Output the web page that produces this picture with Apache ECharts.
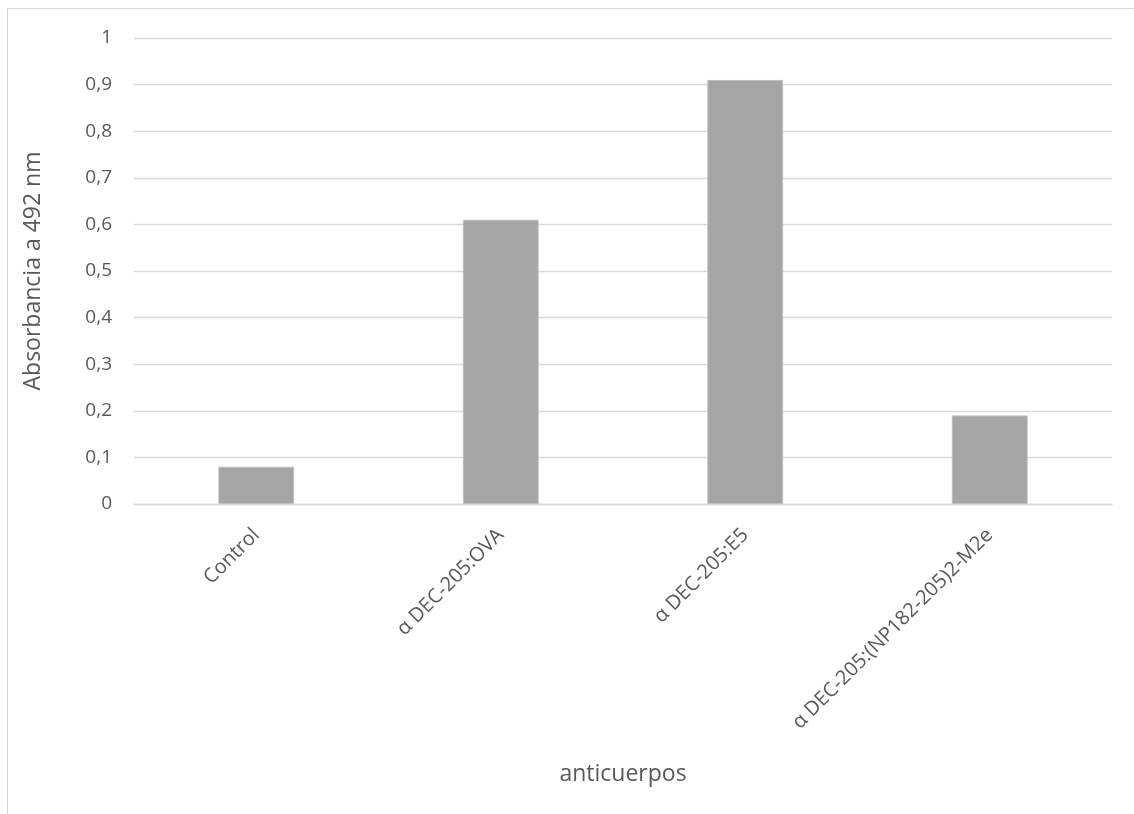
<!DOCTYPE html>
<html>
<head>
<meta charset="utf-8">
<script src="https://cdn.jsdelivr.net/npm/echarts@6/dist/echarts.min.js"></script>
<style>
  html, body { margin: 0; padding: 0; background: #ffffff; overflow: hidden; }
  #frame { position: absolute; left: 7px; top: 8px; width: 1200px; height: 900px;
           border: 1px solid #d9d9d9; box-sizing: border-box; }
  #chart { position: absolute; left: 0; top: 0; width: 1134px; height: 814px; }
</style>
</head>
<body>
<div id="frame"></div>
<div id="chart"></div>
<script>
// Absorbance at 492 nm for each antibody construct
const categories = ['Control', 'α DEC-205:OVA', 'α DEC-205:E5', 'α DEC-205:(NP182-205)2-M2e'];
const absorbance = [0.08, 0.61, 0.91, 0.19];
const yTicks = { min: 0, max: 1, interval: 0.1 };

const FONT = '"Open Sans", "Noto Sans", sans-serif';
const chart = echarts.init(document.getElementById('chart'), null, { renderer: 'canvas' });

chart.setOption({
  backgroundColor: 'transparent',
  animation: false,
  grid: { left: 134, right: 22, top: 38, bottom: 310, containLabel: false },
  xAxis: {
    type: 'category',
    data: categories,
    name: 'anticuerpos',
    nameLocation: 'middle',
    nameGap: 259,
    nameTextStyle: { color: '#595959', fontSize: 23, fontFamily: FONT },
    axisLine: { show: true, lineStyle: { color: '#d9d9d9', width: 1.3 } },
    axisTick: { show: false },
    axisLabel: {
      rotate: 45, margin: 28, color: '#595959', fontSize: 20, fontFamily: FONT
    },
    splitLine: { show: false }
  },
  yAxis: {
    type: 'value',
    min: yTicks.min, max: yTicks.max, interval: yTicks.interval,
    name: 'Absorbancia a 492 nm',
    nameLocation: 'middle',
    nameGap: 89,
    nameRotate: 90,
    nameTextStyle: { color: '#595959', fontSize: 23, fontFamily: FONT },
    axisLine: { show: false },
    axisTick: { show: false },
    axisLabel: {
      margin: 22, color: '#595959', fontSize: 19, fontFamily: FONT,
      formatter: v => (Math.round(v * 10) / 10).toString().replace('.', ',')
    },
    splitLine: { show: true, lineStyle: { color: '#d9d9d9', width: 1.3 } }
  },
  series: [{
    type: 'bar',
    data: absorbance,
    barWidth: '31%',
    itemStyle: { color: '#a5a5a5', borderColor: '#bdbdbd', borderWidth: 1 },
    emphasis: { disabled: true }
  }]
});
</script>
</body>
</html>
